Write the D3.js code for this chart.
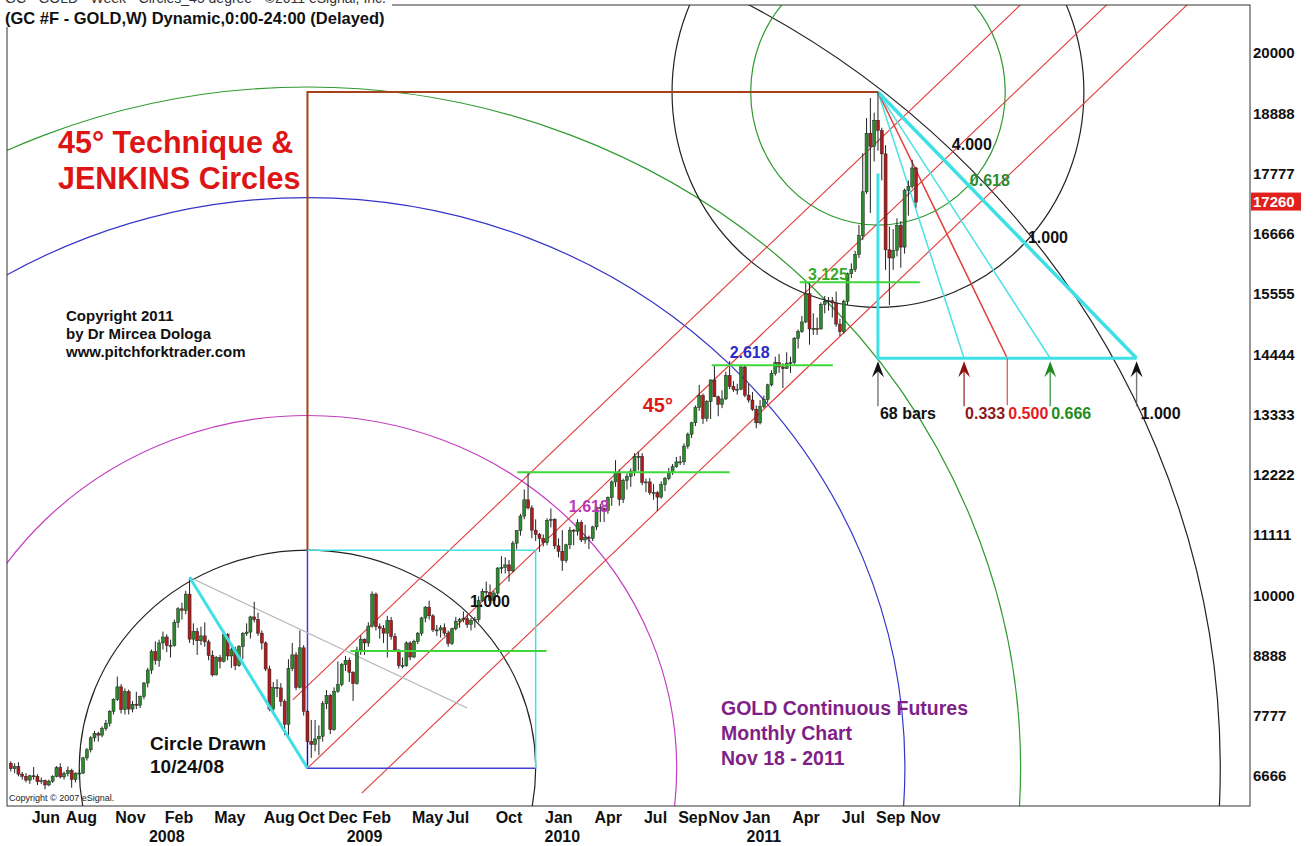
<!DOCTYPE html>
<html><head><meta charset="utf-8">
<script src="https://cdn.jsdelivr.net/npm/d3@7"></script>
<style>
body{margin:0;background:#fff}
svg{display:block}
text{font-family:"Liberation Sans",Arial,sans-serif}
</style>
</head><body>
<svg id="chart" width="1313" height="846"></svg>
<script>
// ---------------- DATA ----------------
const firstWeek = "2007-04-23";           // weekly bars, one per week from here
// [open, high, low, close] in dollars (axis shows price x10)
const ohlc2007 = [
[690,694,675,680],[680,690,672,684],[684,692,666,670],[670,674,660,666],[666,672,655,659],[659,669,652,667],
[667,683,660,666],[666,670,650,656],[656,664,652,658],[658,660,642,650],[650,660,648,657],[657,668,654,666],
[666,685,664,682],[682,690,662,665],[665,675,660,671],[671,684,666,677],[677,680,645,660],[660,673,655,672],
[672,678,660,672],[672,702,670,700],[700,718,695,715],[715,740,710,737],[737,750,730,745],[745,748,730,742],
[742,758,738,754],[754,770,750,764],[764,788,758,786],[786,810,780,808],[808,850,805,831],[831,836,782,789],
[789,828,780,822],[822,826,780,790],[790,805,784,799],[799,822,790,797],[797,815,792,813],[813,840,808,838],
[838,866,830,862]];
const ohlc2008 = [
[862,900,855,896],[896,915,872,880],[880,918,868,912],[912,933,900,923],[923,928,895,907],[907,918,885,907],
[907,955,905,950],[950,978,940,975],[975,986,955,972],[972,1008,965,1002],[1002,1033,912,919],[919,948,908,933],
[933,940,890,916],[916,942,908,925],[925,950,905,914],[914,918,880,889],[889,898,850,853],[853,888,852,885],
[885,890,865,878],[878,935,876,928],[928,930,880,888],[888,905,866,900],[900,905,862,870],[870,908,868,905],
[905,932,882,929],[929,948,925,932],[932,962,920,960],[960,988,950,955],[955,968,925,930],[930,935,900,912],
[912,915,860,864],[864,870,786,790],[790,840,785,830],[830,845,812,829],[829,838,795,804],[804,808,742,762],
[762,882,740,865],[865,912,860,890],[890,895,825,830],[830,935,828,903],[903,908,778,786],[786,790,681,730],
[730,770,700,725],[725,770,712,735],[735,760,705,740],[740,805,730,800],[800,825,790,815],[815,818,744,752],
[752,830,750,823],[823,878,820,835],[835,875,832,872],[872,888,860,880]];
const ohlc2009 = [
[880,885,840,858],[858,860,805,837],[837,905,835,899],[899,926,890,919],[919,920,890,912],[912,950,905,943],
[943,1007,940,1002],[1002,1005,935,942],[942,948,920,939],[939,945,912,930],[930,962,885,953],[953,960,918,924],
[924,930,896,899],[899,900,865,870],[870,885,865,870],[870,915,868,912],[912,915,880,886],[886,918,884,915],
[915,932,910,930],[930,960,925,958],[958,980,950,978],[978,990,955,962],[962,965,932,936],[936,945,925,936],
[936,945,922,940],[940,948,925,930],[930,935,905,911],[911,940,908,938],[938,960,935,952],[952,958,940,955],
[955,970,950,957],[957,965,940,946],[946,958,935,953],[953,960,940,955],[955,998,950,990],[990,1012,988,1007],
[1007,1025,1000,1005],[1005,1020,985,990],[990,1008,985,1004],[1004,1052,1000,1050],[1050,1072,1040,1051],
[1051,1070,1040,1056],[1056,1065,1025,1045],[1045,1100,1042,1096],[1096,1120,1085,1119],[1119,1150,1110,1146],
[1146,1195,1140,1176],[1176,1227,1158,1161],[1161,1166,1105,1120],[1120,1140,1100,1112],[1112,1115,1080,1105],
[1105,1112,1090,1097]];
const ohlc2010 = [
[1097,1142,1092,1138],[1138,1160,1125,1140],[1140,1142,1085,1091],[1091,1105,1070,1081],[1081,1120,1045,1064],
[1064,1095,1060,1093],[1093,1126,1085,1120],[1120,1122,1092,1118],[1118,1140,1110,1134],[1134,1138,1098,1102],
[1102,1130,1095,1107],[1107,1110,1085,1105],[1105,1128,1100,1126],[1126,1166,1120,1162],[1162,1168,1135,1160],
[1160,1162,1135,1156],[1156,1182,1150,1180],[1180,1212,1165,1209],[1209,1249,1200,1227],[1227,1232,1165,1177],
[1177,1215,1170,1212],[1212,1225,1195,1219],[1219,1234,1200,1229],[1229,1262,1220,1256],[1256,1265,1230,1256],
[1256,1262,1203,1208],[1208,1215,1190,1209],[1209,1216,1185,1189],[1189,1205,1176,1189],[1189,1192,1155,1181],
[1181,1210,1178,1204],[1204,1218,1192,1215],[1215,1235,1212,1227],[1227,1242,1222,1237],[1237,1255,1235,1246],
[1246,1257,1240,1246],[1246,1280,1240,1275],[1275,1300,1270,1297],[1297,1320,1290,1318],[1318,1350,1312,1346],
[1346,1388,1340,1368],[1368,1372,1316,1326],[1326,1360,1320,1357],[1357,1398,1325,1397],[1397,1424,1366,1366],
[1366,1368,1330,1352],[1352,1378,1345,1362],[1362,1412,1360,1405],[1405,1432,1380,1385],[1385,1395,1375,1379],
[1379,1390,1370,1380],[1380,1424,1378,1421]];
const ohlc2011 = [
[1421,1424,1365,1369],[1369,1390,1355,1360],[1360,1375,1340,1343],[1343,1350,1308,1318],[1318,1360,1315,1348],
[1348,1368,1345,1361],[1361,1390,1355,1388],[1388,1415,1385,1409],[1409,1440,1405,1429],[1429,1445,1410,1421],
[1421,1428,1382,1418],[1418,1448,1418,1428],[1428,1440,1410,1429],[1429,1476,1425,1474],[1474,1490,1455,1486],
[1486,1515,1484,1504],[1504,1577,1502,1556],[1556,1577,1462,1491],[1491,1520,1480,1492],[1492,1512,1480,1491],
[1491,1540,1490,1536],[1536,1552,1520,1542],[1542,1550,1525,1543],[1543,1550,1512,1539],[1539,1560,1495,1500],
[1500,1510,1478,1486],[1486,1545,1482,1542],[1542,1595,1535,1593],[1593,1612,1585,1601],[1601,1635,1596,1628],
[1628,1683,1622,1663],[1663,1815,1655,1744],[1744,1880,1740,1852],[1852,1917,1705,1828],[1828,1890,1800,1876],
[1876,1928,1820,1857],[1857,1862,1765,1814],[1814,1830,1600,1637],[1637,1680,1535,1622],[1622,1675,1600,1636],
[1636,1695,1625,1682],[1682,1690,1604,1642],[1642,1750,1630,1747],[1747,1765,1700,1754],[1754,1803,1750,1788],
[1788,1790,1715,1725]];

const priceTicks      = [666.6, 777.7, 888.8, 1000, 1111.1, 1222.2, 1333.3, 1444.4, 1555.5, 1666.6, 1777.7, 1888.8, 2000];
const priceTickLabels = ["6666","7777","8888","10000","11111","12222","13333","14444","15555","16666","17777","18888","20000"];
const lastPrice = 1726, lastPriceLabel = "17260";

const monthTicks = [["2007-06-04","Jun"],["2007-08-06","Aug"],["2007-11-05","Nov"],["2008-02-04","Feb"],["2008-05-05","May"],
  ["2008-08-04","Aug"],["2008-10-06","Oct"],["2008-12-01","Dec"],["2009-02-02","Feb"],["2009-05-04","May"],["2009-07-06","Jul"],
  ["2009-10-05","Oct"],["2010-01-04","Jan"],["2010-04-05","Apr"],["2010-07-05","Jul"],["2010-09-06","Sep"],["2010-11-01","Nov"],
  ["2011-01-03","Jan"],["2011-04-04","Apr"],["2011-07-04","Jul"],["2011-09-05","Sep"],["2011-11-07","Nov"]];
const yearTicks = [["2008-02-04","2008"],["2009-02-02","2009"],["2010-02-01","2010"],["2011-02-07","2011"]];

// key pivots (date, price)
const low2008    = ["2008-10-20", 681];    // circle centre, "Circle Drawn 10/24/08"
const high2008   = ["2008-03-17", 1033];
const unitCorner = ["2009-12-14", 1083];   // 1.000 square corner
const peak2011   = ["2011-09-05", 1928];
const peakUnit   = ["2012-09-18", 1531];   // radius of circles drawn round the 2011 top
const grayEnd    = ["2009-08-10", 792];
const circleRatios = [1.0, 1.618, 2.618, 3.125, 4.0];
const peakRatios   = [0.618, 1.0];
const channelStarts = [["2008-09-23", 807], ["2008-10-20", 681], ["2009-01-28", 635]];
const greenLevels = [[897,"2009-01-07","2010-01-03"],[1227,"2009-11-10","2010-12-06"],[1424,"2010-11-03","2011-06-14"],[1577,"2011-04-14","2011-11-21"]];
const fanBars = 68, fanBase = 1437, fanTop = 1777.7;
const fanRatios = [0.333, 0.5, 0.666, 1.0];
const fanLabels = ["0.333","0.500","0.666","1.000"];

// ---------------- CHART ----------------
const parse = d3.timeParse("%Y-%m-%d");
const W = 1313, H = 846;
const L = 7, R = 1250, T = 5, B = 806;
const svg = d3.select("#chart");
svg.append("rect").attr("width",W).attr("height",H).attr("fill","#fff");

const x = d3.scaleTime().domain([new Date(2007,5,1), new Date(2011,10,14)]).range([32, 916]);
const y = d3.scaleLinear().domain([666.6, 2000]).range([776, 53]);
const P = d => [x(parse(d[0])), y(d[1])];

const bars = [].concat(ohlc2007, ohlc2008, ohlc2009, ohlc2010, ohlc2011).map((r,i) => ({
  date: d3.timeDay.offset(parse(firstWeek), 7*i), o:r[0], h:r[1], l:r[2], c:r[3]}));

svg.append("clipPath").attr("id","plot").append("rect")
  .attr("x",L).attr("y",T).attr("width",R-L).attr("height",B-T);
const g = svg.append("g").attr("clip-path","url(#plot)");

const C = P(low2008), U = P(unitCorner), PK = P(peak2011), H8 = P(high2008), PU = P(peakUnit);
const rx = U[0]-C[0], ry = C[1]-U[1];
const prx = PU[0]-PK[0], pry = PU[1]-PK[1];

// concentric ellipses around 2008 low
const circColors = ["#222","#c23ec2","#3434c8","#2f9a2f","#222"];
g.selectAll(".circ").data(circleRatios).join("ellipse")
  .attr("cx",C[0]).attr("cy",C[1]).attr("rx",k=>k*rx).attr("ry",k=>k*ry)
  .attr("fill","none").attr("stroke",(k,i)=>circColors[i]).attr("stroke-width",1.2);
// circles around 2011 peak
g.selectAll(".pcirc").data(peakRatios).join("ellipse")
  .attr("cx",PK[0]).attr("cy",PK[1]).attr("rx",k=>k*prx).attr("ry",k=>k*pry)
  .attr("fill","none").attr("stroke",(k,i)=>i?"#222":"#2f9a2f").attr("stroke-width",1.2);

// 45 degree channel lines
channelStarts.forEach(s => {
  const p = P(s);
  g.append("line").attr("x1",p[0]).attr("y1",p[1]).attr("x2",p[0]+6*rx).attr("y2",p[1]-6*ry)
    .attr("stroke","#e23a3a").attr("stroke-width",1.1);
});

// brown lines
const pkY = PK[1];
g.append("path").attr("d",`M${C[0]},${U[1]}V${pkY}H${PK[0]}`).attr("fill","none").attr("stroke","#a8401c").attr("stroke-width",2);
// blue & cyan square
g.append("path").attr("d",`M${C[0]},${U[1]}V${C[1]}H${U[0]}`).attr("fill","none").attr("stroke","#4040d8").attr("stroke-width",1.5);
g.append("path").attr("d",`M${C[0]},${U[1]}H${U[0]}V${C[1]}`).attr("fill","none").attr("stroke","#44e0e0").attr("stroke-width",1.5);
// gray trend line
const GE = P(grayEnd);
g.append("line").attr("x1",H8[0]).attr("y1",H8[1]).attr("x2",GE[0]).attr("y2",GE[1]).attr("stroke","#b4b4b4").attr("stroke-width",1.2);

// fan from 2011 peak (behind candles)
const fEnd = x(d3.timeDay.offset(parse(peak2011[0]), fanBars*7));
const fy = y(fanBase);
const fx = r => PK[0] + r*(fEnd-PK[0]);
const fanColors = ["#48e2e2","#e03a3a","#48e2e2","#3ee0e6"];
fanRatios.forEach((r,i) => {
  g.append("line").attr("x1",PK[0]).attr("y1",PK[1]).attr("x2",fx(r)).attr("y2",fy)
    .attr("stroke",fanColors[i]).attr("stroke-width", r===1?3.5:1.5);
});
g.append("path").attr("d",`M${PK[0]},${y(fanTop)}V${fy}H${fEnd}`).attr("fill","none").attr("stroke","#3ee0e6").attr("stroke-width",3);

// candles
const bw = 3;
const cg = g.append("g");
cg.selectAll(".wick").data(bars).join("line")
  .attr("x1",d=>x(d.date)).attr("x2",d=>x(d.date)).attr("y1",d=>y(d.h)).attr("y2",d=>y(d.l))
  .attr("stroke","#222").attr("stroke-width",1);
cg.selectAll(".body").data(bars).join("rect")
  .attr("x",d=>x(d.date)-bw/2).attr("width",bw)
  .attr("y",d=>y(Math.max(d.o,d.c))).attr("height",d=>Math.max(1,Math.abs(y(d.o)-y(d.c))))
  .attr("fill",d=>d.c>=d.o?"#2a8c2a":"#b01c1c").attr("stroke","#222").attr("stroke-width",0.5);

// cyan line 2008 high -> low
g.append("line").attr("x1",H8[0]).attr("y1",H8[1]).attr("x2",C[0]).attr("y2",C[1]).attr("stroke","#3ee0e6").attr("stroke-width",3);

// green horizontal levels
greenLevels.forEach(l => {
  g.append("line").attr("x1",x(parse(l[1]))).attr("x2",x(parse(l[2]))).attr("y1",y(l[0])).attr("y2",y(l[0]))
    .attr("stroke","#3fd83a").attr("stroke-width",2);
});

// red 0.5 marker
g.append("line").attr("x1",fx(0.5)).attr("x2",fx(0.5)).attr("y1",fy).attr("y2",fy+47).attr("stroke","#e05050").attr("stroke-width",1.2);
// arrows
const arrows = [[0,"#111"],[0.333,"#8b1010"],[0.666,"#1e8a1e"],[1,"#111"]];
arrows.forEach(a => {
  const ax = fx(a[0]), t = fy+3;
  g.append("line").attr("x1",ax).attr("x2",ax).attr("y1",t+8).attr("y2",t+45).attr("stroke",a[1]==="#111"?"#555":a[1]).attr("stroke-width",1.4).attr("opacity",0.8);
  g.append("path").attr("d",`M${ax},${t}L${ax+6},${t+16}L${ax},${t+10}L${ax-6},${t+16}Z`).attr("fill",a[1]);
});

// ---------------- TEXT ----------------
const txt = (s,px,py,opt={}) => svg.append("text").attr("x",px).attr("y",py).text(s)
  .attr("font-size",opt.size||15).attr("font-weight",opt.weight||"bold").attr("fill",opt.color||"#111")
  .attr("font-family",opt.family||null).attr("text-anchor",opt.anchor||"start");

const annot = [
  ["1.000","2009-08-15",978,"#111"],["1.618","2010-02-13",1153,"#b83ab8"],["2.618","2010-12-06",1437,"#2a2acc"],
  ["3.125","2011-04-29",1581,"#3aa82a"],["4.000","2012-01-19",1821,"#111"],["0.618","2012-02-21",1755,"#2e8b2e"],
  ["1.000","2012-06-07",1650,"#111"]];
annot.forEach(a => txt(a[0], x(parse(a[1])), y(a[2]), {size:16, color:a[3]}));
txt("45°", x(parse("2010-06-29")), y(1338), {size:20, color:"#dd1a1a"});

txt("68 bars", fx(0)+2, fy+61, {size:16, family:"Liberation Serif", color:"#111"});
const fanLabelColors = ["#8b1a1a","#e02020","#228b22","#111"];
fanRatios.forEach((r,i) => txt(fanLabels[i], fx(r)+(r===1?4:1), fy+61, {size:16, color:fanLabelColors[i]}));

txt("45° Technique &", 58, 153, {size:30.5, color:"#dd1515"});
txt("JENKINS Circles", 58, 189, {size:30.5, color:"#dd1515"});
["Copyright 2011","by Dr Mircea Dologa","www.pitchforktrader.com"].forEach((s,i) =>
  txt(s, 66, 321+i*18, {size:15, family:"Liberation Serif"}));
txt("Circle Drawn", 150, 750, {size:19});
txt("10/24/08", 150, 773, {size:19});
["GOLD Continuous Futures","Monthly Chart","Nov 18 - 2011"].forEach((s,i) =>
  txt(s, 721, 715+i*25, {size:19.5, color:"#801f88"}));
txt("Copyright © 2007 eSignal.", 9, 801, {size:9, weight:"normal", color:"#222"});

// frame
svg.append("rect").attr("x",L).attr("y",T).attr("width",R-L).attr("height",B-T).attr("fill","none").attr("stroke","#333").attr("stroke-width",1);
// header
svg.append("rect").attr("x",0).attr("y",0).attr("width",392).attr("height",27).attr("fill","#fff");
txt("GC - GOLD - Week - Circles_45 degree - ©2011 eSignal, Inc.", 5, 3, {size:14, weight:"normal", color:"#333"});
txt("(GC #F - GOLD,W) Dynamic,0:00-24:00 (Delayed)", 5, 24, {size:16.5});

// right price axis
const ya = svg.append("g").attr("transform",`translate(${R},0)`)
  .call(d3.axisRight(y).tickValues(priceTicks).tickFormat((d,i)=>priceTickLabels[i]).tickSize(0).tickPadding(3));
ya.select(".domain").remove();
ya.selectAll("text").attr("font-size",15).attr("font-weight","bold").attr("fill","#111").attr("font-family","Liberation Sans, Arial");
// last price tag
const ly = y(lastPrice);
svg.append("rect").attr("x",R+1).attr("y",ly-9).attr("width",50).attr("height",18).attr("fill","#e2201e");
txt(lastPriceLabel, R+3, ly+5.5, {size:15, color:"#fff"});

// bottom time axis
monthTicks.forEach(m => txt(m[1], x(parse(m[0]))-2, 823, {size:16}));
yearTicks.forEach(t => txt(t[1], x(parse(t[0])), 842, {size:16, anchor:"middle"}));
</script>
</body></html>
